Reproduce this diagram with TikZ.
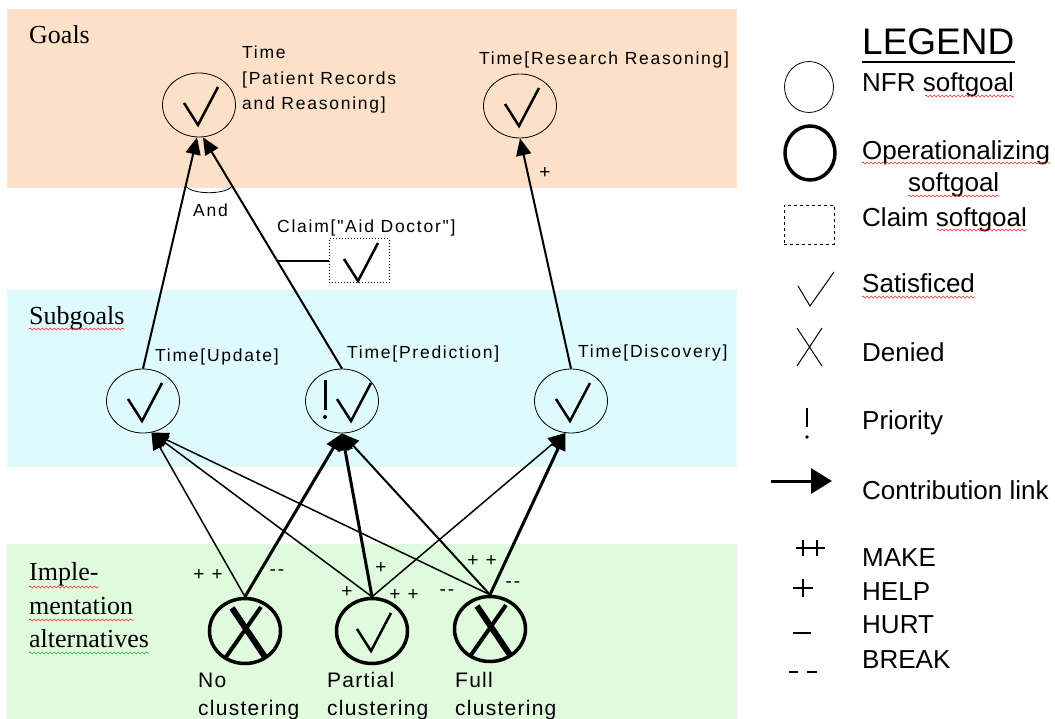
\documentclass[tikz,border=0pt]{standalone}
\usepackage{fontspec}
\setmainfont{Liberation Sans}
\newfontfamily\serf{Liberation Serif}
\newfontfamily\lblfont[LetterSpace=10]{Liberation Sans}
\newfontfamily\altfont[LetterSpace=6]{Liberation Sans}
\usepackage{tikz}
\usetikzlibrary{arrows.meta,calc,shapes.geometric,decorations.pathmorphing}
\definecolor{goalbg}{RGB}{252,224,200}
\definecolor{subbg}{RGB}{222,250,252}
\definecolor{implbg}{RGB}{224,250,222}
\definecolor{squig}{RGB}{240,40,40}
\definecolor{squiggreen}{RGB}{40,170,60}

\begin{document}
\begin{tikzpicture}[x=1pt,y=-1pt,
  nfr/.style={ellipse,draw,line width=0.8pt,minimum width=73pt,minimum height=64pt,inner sep=0pt},
  opr/.style={ellipse,draw,line width=3.5pt,minimum width=71pt,minimum height=65pt,inner sep=0pt},
  lbl/.style={anchor=base west,inner sep=0pt,font=\lblfont\fontsize{17.5}{25}\selectfont},
  alt/.style={anchor=base west,inner sep=0pt,font=\altfont\fontsize{21}{29}\selectfont},
  sgn/.style={inner sep=0pt,font=\lblfont\fontsize{19}{19}\selectfont},
  lvl/.style={anchor=base west,inner sep=0pt,font=\serf\fontsize{26}{33}\selectfont},
  lgd/.style={anchor=base west,inner sep=0pt,font=\fontsize{26}{30}\selectfont},
  contrib/.style={-{Triangle[length=17pt,width=15pt]},line width=2pt},
  strong/.style={contrib,line width=3pt},
  weak/.style={contrib,line width=1.5pt},
  wavy/.style={draw=squig,line width=0.6pt,decorate,decoration={snake,amplitude=1pt,segment length=4pt}},
  chk/.pic={\draw[line width=2.5pt] (-15,-2) -- (-1,20) -- (19,-18);},
  pri/.pic={\draw[line width=3pt] (0,-21) -- (0,9); \fill (0,16) circle (2pt);},
  dny/.pic={\draw[line width=6pt] (-13,-23) -- (20,26); \draw[line width=4pt] (16,-24) -- (-19,26);}
]
\useasboundingbox (0,0) rectangle (1055,719);
\fill[goalbg] (7,9) rectangle (737,188);
\fill[subbg] (7,290) rectangle (737,467);
\fill[implbg] (7,544) rectangle (737,719);

\node[lvl] (glab) at (29,44) {Goals};
\node[lvl] (slab) at (29,324) {Subgoals};
\node[lvl] (ilab1) at (29,580) {Imple-};
\node[lvl] (ilab2) at (29,614) {mentation};
\node[lvl] (ilab3) at (29,647) {alternatives};
\draw[wavy] ([yshift=-5pt]slab.base west) -- ([yshift=-5pt]slab.base east);
\draw[wavy] ([yshift=-7pt]ilab1.base west) -- ([yshift=-7pt]ilab1.base east);
\draw[wavy] ([yshift=-6pt]ilab2.base west) -- ([yshift=-6pt]ilab2.base east);
\draw[wavy,draw=squiggreen] ([yshift=-6pt]ilab3.base west) -- ([yshift=-6pt]ilab3.base east);

\node[nfr] (prr) at (199,105) {};
\node[nfr] (rsr) at (520,106) {};
\node[nfr] (upd) at (143,401) {};
\node[nfr] (prd) at (342,401) {};
\node[nfr] (dsc) at (571,401) {};
\node[opr] (ncl) at (245,631) {};
\node[opr] (pcl) at (372,631) {};
\node[opr] (fcl) at (490,629) {};
\node[draw,dotted,line width=1pt,minimum width=60pt,minimum height=44pt] (clm) at (359,261) {};

\pic at (prr) {chk};
\pic at (rsr) {chk};
\pic at (upd) {chk};
\pic at ([xshift=10pt]prd.center) {chk};
\pic at ([xshift=-17pt]prd.center) {pri};
\pic at (dsc) {chk};
\pic at (clm) {chk};
\pic at (pcl) {chk};
\pic at (ncl) {dny};
\pic at (fcl) {dny};

\node[lbl] (prrt1) at (242,59) {Time};
\node[lbl] (prrt2) at (242,85) {[Patient Records};
\node[lbl] (prrt3) at (242,110) {and Reasoning]};
\node[lbl] (rsrt) at (479,65) {Time[Research Reasoning]};
\node[lbl] (updt) at (155,361) {Time[Update]};
\node[lbl] (prdt) at (347,359) {Time[Prediction]};
\node[lbl] (dsct) at (578,358) {Time[Discovery]};
\node[lbl] (clmt) at (277,233) {Claim["Aid Doctor"]};
\node[lbl] (andt) at (193,217) {And};
\node[alt] (nclt1) at (198,687) {No};
\node[alt] (nclt2) at (198,715) {clustering};
\node[alt] (pclt1) at (327,687) {Partial};
\node[alt] (pclt2) at (327,715) {clustering};
\node[alt] (fclt1) at (455,687) {Full};
\node[alt] (fclt2) at (455,715) {clustering};

\draw[contrib] (upd.north) -- ([xshift=-2pt]prr.south);
\draw[contrib] (prd.north) -- ([xshift=4pt]prr.south);
\draw[contrib] (dsc.north) -- (rsr.south);
\coordinate (and1) at ($([xshift=-2pt]prr.south)!0.21!(upd.north)$);
\coordinate (and2) at ($([xshift=4pt]prr.south)!0.21!(prd.north)$);
\draw[line width=0.8pt] (and1) .. controls +(6,9) and +(-6,9) .. (and2);
\coordinate (clmj) at ($(prd.north)!0.457!([xshift=4pt]prr.south)$);
\draw[line width=1.2pt] (clm.west) -- (clmj |- clm.west);

\draw[weak] (ncl.north) -- (upd.-75);
\draw[strong] (ncl.north) -- (prd.south);
\draw[weak] (pcl.north) -- (upd.-75);
\draw[strong] (pcl.north) -- (prd.south);
\draw[weak] (pcl.north) -- (dsc.-100);
\draw[weak] (fcl.north) -- (upd.-75);
\draw[contrib] (fcl.north) -- (prd.south);
\draw[strong] (fcl.north) -- (dsc.-100);

\node[sgn] (s0) at (545,173) {+};
\node[sgn] (s1) at (208,575) {+ +};
\node[sgn] (s2) at (277,573) {-{}-};
\node[sgn] (s3) at (381,568) {+};
\node[sgn] (s4) at (347,592) {+};
\node[sgn] (s5) at (404,595) {+ +};
\node[sgn] (s6) at (447,593) {-{}-};
\node[sgn] (s7) at (482,561) {+ +};
\node[sgn] (s8) at (513,585) {-{}-};

\node[anchor=base west,inner sep=0pt,font=\fontsize{37}{37}\selectfont] (lgd) at (862,55) {LEGEND};
\draw[line width=2pt] ([yshift=-7pt]lgd.base west) -- ([yshift=-7pt]lgd.base east);
\node[ellipse,draw,line width=0.8pt,minimum width=49pt,minimum height=51pt] (lgnfr) at (809,87) {};
\node[ellipse,draw,line width=3.5pt,minimum width=50pt,minimum height=54pt] (lgopr) at (810,153) {};
\node[draw,dashed,line width=1pt,minimum width=50pt,minimum height=39pt] (lgclm) at (809,225) {};
\draw[line width=1pt] (798,286) -- (810,306) -- (834,272);
\draw[line width=1pt] (797,328) -- (822,366) (822,328) -- (797,366);
\draw[line width=2pt] (807,408) -- (807,427);
\fill (807,437) circle (1.8pt);
\draw[-{Triangle[length=21pt,width=25pt]},line width=3pt] (771,481) -- (832,481);
\draw[line width=2.5pt] (796,548) -- (825,548) (803,540) -- (803,556) (817,540) -- (817,556);
\draw[line width=2.5pt] (793,588) -- (813,588) (803,579) -- (803,597);
\draw[line width=2.5pt] (793,633) -- (811,633);
\draw[line width=2.5pt] (789,672) -- (798,672) (807,672) -- (817,672);

\node[lgd] (lgnfrt) at (862,92) {NFR softgoal};
\node[lgd] (lgoprt) at (862,160) {Operationalizing};
\node[lgd] (lgoprt2) at (908,192) {softgoal};
\node[lgd] (lgclmt) at (862,227) {Claim softgoal};
\node[lgd] (lgsat) at (862,293) {Satisficed};
\node[lgd] (lgden) at (862,362) {Denied};
\node[lgd] (lgpri) at (862,429) {Priority};
\node[lgd] (lgcon) at (862,499) {Contribution link};
\node[lgd] (lgmk) at (862,566) {MAKE};
\node[lgd] (lghp) at (862,600) {HELP};
\node[lgd] (lghr) at (862,633) {HURT};
\node[lgd] (lgbr) at (862,668) {BREAK};
\draw[wavy] (925,96) -- ([yshift=-4pt]lgnfrt.base east);
\draw[wavy] ([yshift=-3pt]lgoprt.base west) -- ([yshift=-3pt]lgoprt.base east);
\draw[wavy] ([yshift=-4pt]lgoprt2.base west) -- ([yshift=-4pt]lgoprt2.base east);
\draw[wavy] (937,230) -- ([yshift=-3pt]lgclmt.base east);
\draw[wavy] ([yshift=-4pt]lgsat.base west) -- ([yshift=-4pt]lgsat.base east);
\end{tikzpicture}
\end{document}
